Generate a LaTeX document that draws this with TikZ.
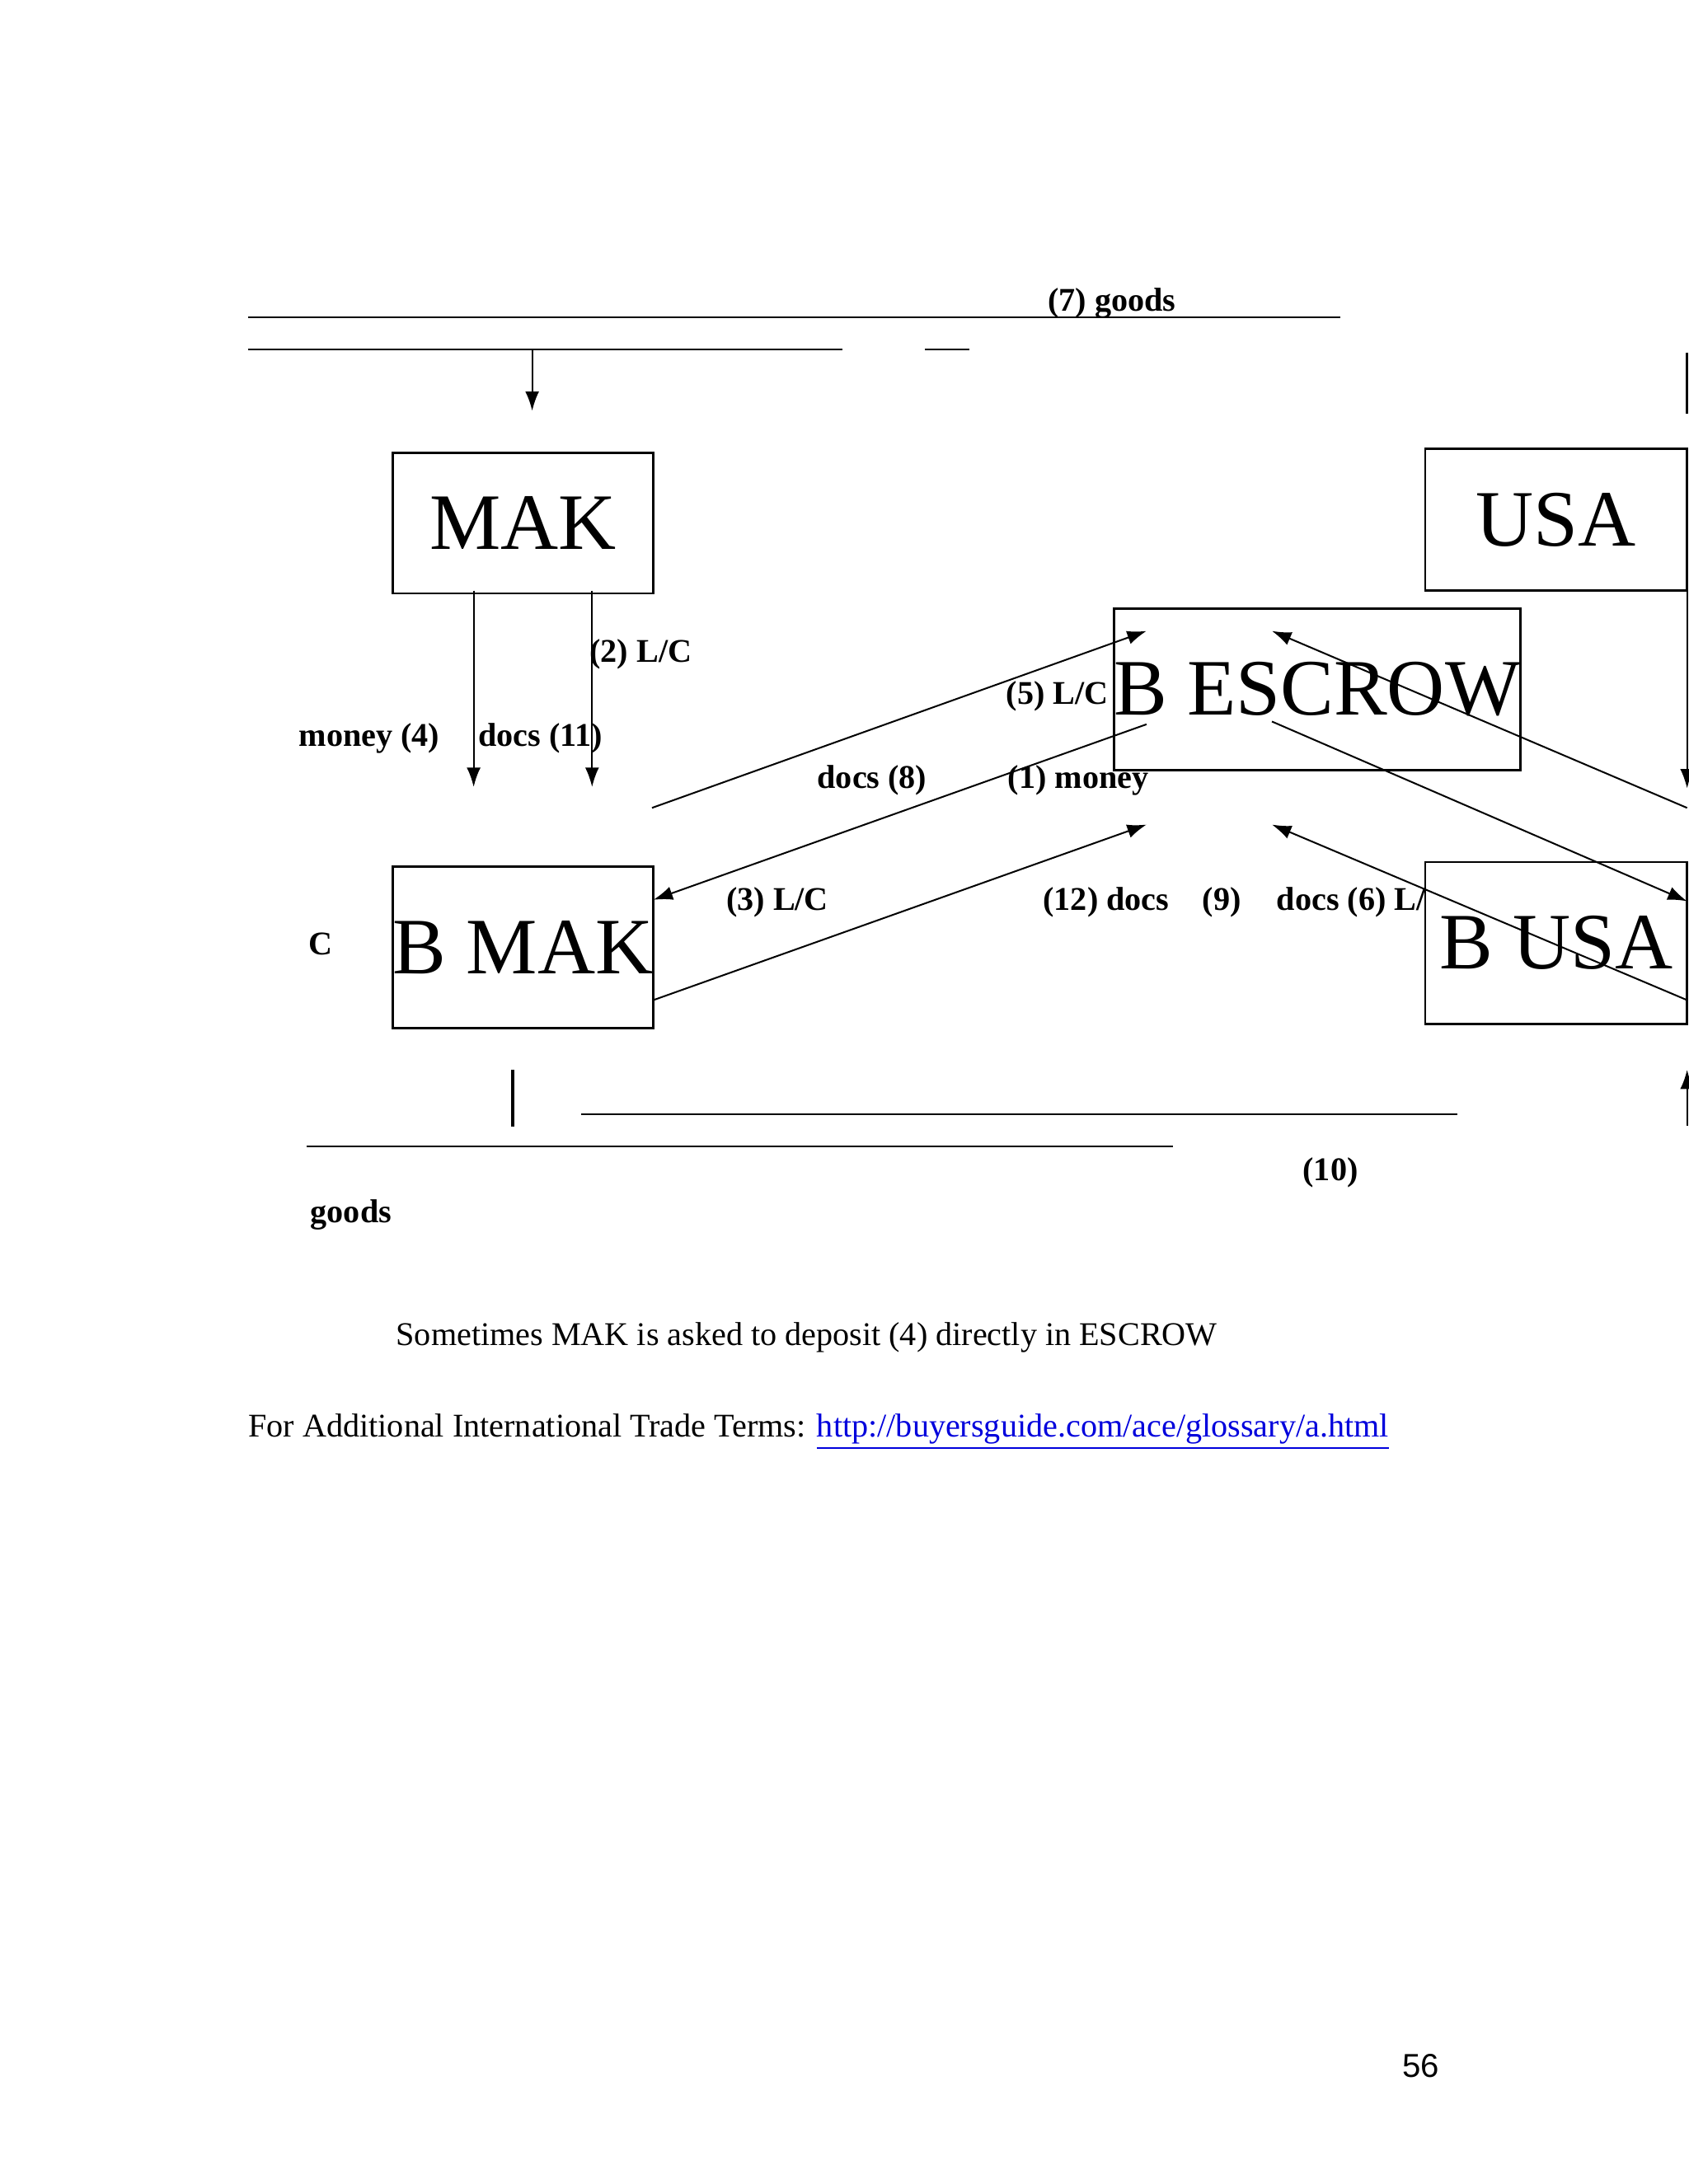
\documentclass[tikz,border=0pt]{standalone}
\usepackage{fontspec}
\setmainfont{Liberation Serif}
\newfontfamily\pgnum{Liberation Sans}
\usetikzlibrary{arrows.meta}
\definecolor{linkblue}{RGB}{0,0,220}
\begin{document}
\begin{tikzpicture}[x=0.505pt,y=-0.505pt,
  box/.style={draw,line width=0.8pt,inner sep=0pt,font=\fontsize{29}{34}\selectfont},
  lbl/.style={inner sep=0pt,font=\fontsize{12}{14}\selectfont\bfseries},
  ln/.style={line width=0.6pt},
  arr/.style={line width=0.6pt,-{Latex[length=7pt,width=5pt]}}]
\useasboundingbox (0,0) rectangle (1212,1568);
% boxes
\node[box,minimum width=94.4pt,minimum height=51pt] (mak) at (375.5,375.5) {MAK};
\node[box,minimum width=94.9pt,minimum height=51.5pt] (usa) at (1117,373) {USA};
\node[box,minimum width=123.7pt,minimum height=58.6pt] (besc) at (945.5,495) {B ESCROW};
\node[box,minimum width=94.4pt,minimum height=58.6pt] (bmak) at (375.5,680) {B MAK};
\node[box,minimum width=94.9pt,minimum height=58.6pt] (busa) at (1117,677) {B USA};
% coordinates
\coordinate (t1a) at (178,228); \coordinate (t1b) at (962,228);
\coordinate (t2a) at (178,251); \coordinate (t2b) at (605,251);
\coordinate (t3a) at (664,251); \coordinate (t3b) at (696,251);
\coordinate (ta) at (382,251); \coordinate (tb) at (382,295);
\coordinate (rv1a) at (1211,253); \coordinate (rv1b) at (1211,297);
\coordinate (rv2a) at (1211,424); \coordinate (rv2b) at (1211,566);
\coordinate (rv3a) at (1211,808); \coordinate (rv3b) at (1211,768);
\coordinate (m1a) at (340,424); \coordinate (m1b) at (340,565);
\coordinate (m2a) at (425,424); \coordinate (m2b) at (425,565);
\coordinate (a5s) at (468,580); \coordinate (a5e) at (823,453);
\coordinate (a3s) at (823,520); \coordinate (a3e) at (469,646);
\coordinate (a12s) at (469,718); \coordinate (a12e) at (823,592);
\coordinate (a6s) at (1211,580); \coordinate (a6e) at (913,453);
\coordinate (a9s) at (913,518); \coordinate (a9e) at (1211,647);
\coordinate (a10s) at (1211,718); \coordinate (a10e) at (913,592);
\coordinate (bv1) at (368,768); \coordinate (bv2) at (368,809);
\coordinate (b1a) at (417,800); \coordinate (b1b) at (1046,800);
\coordinate (b2a) at (220,823); \coordinate (b2b) at (842,823);
% lines
\draw[ln] (t1a) -- (t1b);
\draw[ln] (t2a) -- (t2b);
\draw[ln] (t3a) -- (t3b);
\draw[arr] (ta) -- (tb);
\draw[line width=1pt] (rv1a) -- (rv1b);
\draw[arr] (rv2a) -- (rv2b);
\draw[arr] (rv3a) -- (rv3b);
\draw[arr] (m1a) -- (m1b);
\draw[arr] (m2a) -- (m2b);
\draw[arr] (a5s) -- (a5e);
\draw[arr] (a3s) -- (a3e);
\draw[arr] (a12s) -- (a12e);
\draw[arr] (a6s) -- (a6e);
\draw[arr] (a9s) -- (a9e);
\draw[arr] (a10s) -- (a10e);
\draw[line width=1pt] (bv1) -- (bv2);
\draw[ln] (b1a) -- (b1b);
\draw[ln] (b2a) -- (b2b);
% labels
\node[lbl] (l7) at (798,218) {(7) goods};
\node[lbl] (l2) at (460,470) {(2) L/C};
\node[lbl] (l4) at (265,530) {money (4)};
\node[lbl] (l11) at (388,530) {docs (11)};
\node[lbl] (l5) at (759,500) {(5) L/C};
\node[lbl] (l8) at (626,560) {docs (8)};
\node[lbl] (l1) at (774,560) {(1) money};
\node[lbl] (l3) at (558,648) {(3) L/C};
\node[lbl] (l12) at (794,648) {(12) docs};
\node[lbl] (l9) at (877,648) {(9)};
\node[lbl,anchor=west] (l6) at (916,648) {docs (6) L/};
\node[lbl] (lc) at (230,678) {C};
\node[lbl] (l10) at (955,842) {(10)};
\node[lbl] (lg) at (252,872) {goods};
\node[inner sep=0pt,anchor=west,font=\fontsize{12}{14}\selectfont] (note) at (284,960) {Sometimes MAK is asked to deposit (4) directly in ESCROW};
\node[inner sep=0pt,anchor=west,font=\fontsize{12}{14}\selectfont] (ref) at (178,1028) {For Additional International Trade Terms: {\color{linkblue}\underline{http://buyersguide.com/ace/glossary/a.html}}};
\node[inner sep=0pt,font=\pgnum\fontsize{12}{14}\selectfont] (pg) at (1020,1483) {56};
\end{tikzpicture}
\end{document}
